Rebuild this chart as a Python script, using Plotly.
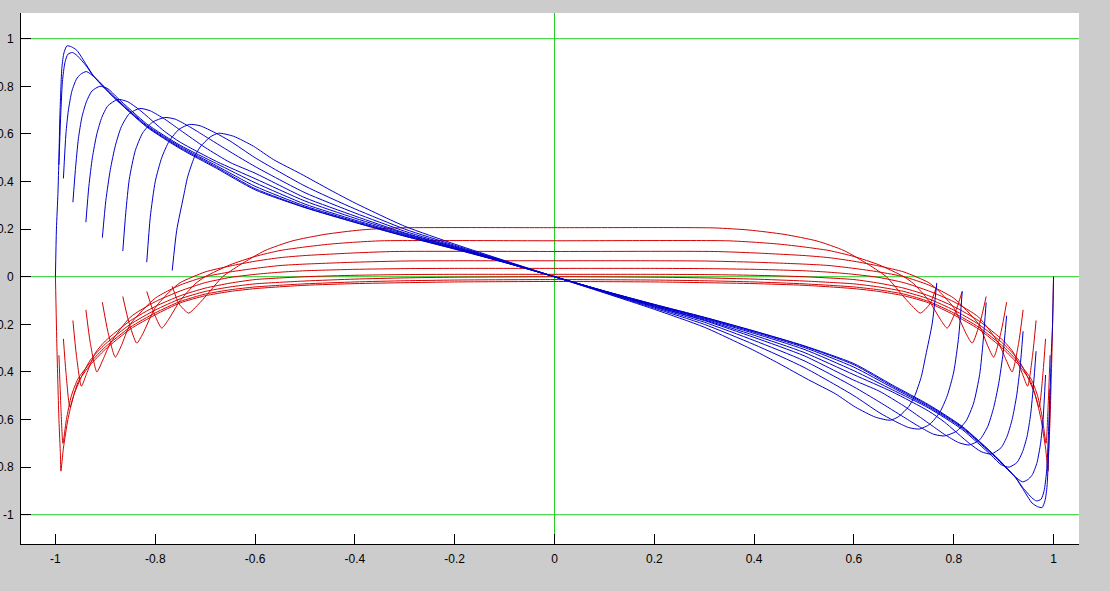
import plotly.graph_objects as go

# ---- tick labels ----
x_tick_vals = [-1, -0.8, -0.6, -0.4, -0.2, 0, 0.2, 0.4, 0.6, 0.8, 1]
x_tick_text = ["-1", "-0.8", "-0.6", "-0.4", "-0.2", "0", "0.2", "0.4", "0.6", "0.8", "1"]
y_tick_vals = [-1, -0.8, -0.6, -0.4, -0.2, 0, 0.2, 0.4, 0.6, 0.8, 1]
y_tick_text = ["-1", "-0.8", "-0.6", "-0.4", "-0.2", "0", "0.2", "0.4", "0.6", "0.8", "1"]

# green reference lines
h_ref_lines = [-1, 0, 1]
v_ref_lines = [0]

# ---- blue (odd) curves: left half, x from -a to 0 ----
blue_c1_x = [-1.0, -0.998, -0.995, -0.993, -0.991, -0.987, -0.983, -0.977, -0.968, -0.957, -0.938, -0.924, -0.884, -0.817, -0.75, -0.677, -0.6, -0.5, -0.4, -0.3, -0.2, -0.1, 0.0]
blue_c1_y = [0.0, 0.2, 0.35, 0.5, 0.68, 0.88, 0.94, 0.97, 0.966, 0.951, 0.89, 0.845, 0.755, 0.629, 0.538, 0.455, 0.365, 0.29, 0.228, 0.17, 0.116, 0.06, 0.0]

blue_c2_x = [-0.993, -0.99, -0.986, -0.981, -0.975, -0.966, -0.957, -0.938, -0.924, -0.884, -0.817, -0.75, -0.677, -0.6, -0.5, -0.4, -0.3, -0.2, -0.1, 0.0]
blue_c2_y = [0.47, 0.65, 0.82, 0.9, 0.935, 0.942, 0.93, 0.885, 0.843, 0.756, 0.632, 0.542, 0.46, 0.37, 0.292, 0.229, 0.171, 0.117, 0.06, 0.0]

blue_c3_x = [-0.984, -0.979, -0.974, -0.967, -0.958, -0.95, -0.938, -0.92, -0.884, -0.817, -0.75, -0.677, -0.6, -0.5, -0.4, -0.3, -0.2, -0.1, 0.0]
blue_c3_y = [0.413, 0.6, 0.70, 0.78, 0.83, 0.85, 0.862, 0.835, 0.76, 0.636, 0.547, 0.466, 0.38, 0.297, 0.233, 0.174, 0.119, 0.061, 0.0]

blue_c4_x = [-0.965, -0.96, -0.954, -0.947, -0.938, -0.927, -0.911, -0.895, -0.875, -0.817, -0.75, -0.677, -0.6, -0.5, -0.4, -0.3, -0.2, -0.1, 0.0]
blue_c4_y = [0.313, 0.45, 0.58, 0.67, 0.735, 0.78, 0.80, 0.79, 0.75, 0.642, 0.552, 0.475, 0.395, 0.305, 0.238, 0.177, 0.12, 0.061, 0.0]

blue_c5_x = [-0.939, -0.933, -0.926, -0.917, -0.907, -0.895, -0.875, -0.855, -0.831, -0.781, -0.75, -0.677, -0.6, -0.5, -0.4, -0.3, -0.2, -0.1, 0.0]
blue_c5_y = [0.229, 0.38, 0.5, 0.6, 0.67, 0.718, 0.745, 0.735, 0.70, 0.61, 0.565, 0.484, 0.412, 0.318, 0.246, 0.181, 0.123, 0.062, 0.0]

blue_c6_x = [-0.906, -0.899, -0.89, -0.88, -0.868, -0.852, -0.831, -0.81, -0.781, -0.75, -0.7, -0.65, -0.6, -0.5, -0.4, -0.3, -0.2, -0.1, 0.0]
blue_c6_y = [0.164, 0.32, 0.45, 0.55, 0.63, 0.685, 0.707, 0.697, 0.662, 0.616, 0.543, 0.48, 0.435, 0.332, 0.255, 0.184, 0.125, 0.063, 0.0]

blue_c7_x = [-0.865, -0.859, -0.852, -0.84, -0.825, -0.805, -0.781, -0.76, -0.731, -0.7, -0.65, -0.6, -0.5, -0.4, -0.3, -0.2, -0.1, 0.0]
blue_c7_y = [0.108, 0.27, 0.41, 0.53, 0.605, 0.65, 0.669, 0.662, 0.63, 0.59, 0.525, 0.463, 0.353, 0.268, 0.191, 0.128, 0.064, 0.0]

blue_c8_x = [-0.817, -0.81, -0.8, -0.787, -0.772, -0.752, -0.731, -0.71, -0.68, -0.65, -0.6, -0.5, -0.4, -0.3, -0.2, -0.1, 0.0]
blue_c8_y = [0.061, 0.25, 0.40, 0.50, 0.57, 0.62, 0.640, 0.634, 0.605, 0.57, 0.50, 0.381, 0.285, 0.2, 0.132, 0.066, 0.0]

blue_c9_x = [-0.766, -0.757, -0.744, -0.735, -0.722, -0.71, -0.69, -0.673, -0.643, -0.603, -0.563, -0.509, -0.45, -0.4, -0.3, -0.2, -0.1, 0.0]
blue_c9_y = [0.026, 0.195, 0.33, 0.42, 0.5, 0.545, 0.587, 0.603, 0.59, 0.548, 0.492, 0.433, 0.365, 0.31, 0.212, 0.137, 0.068, 0.0]

# ---- red (even) curves: left half, x from -a to 0 ----
red_r1_x = [-1.0, -0.997, -0.993, -0.99, -0.989, -0.984, -0.975, -0.965, -0.954, -0.93, -0.9, -0.85, -0.8, -0.75, -0.7, -0.65, -0.6, -0.5, -0.4, -0.3, -0.2, 0.0]
red_r1_y = [0.0, -0.3, -0.6, -0.75, -0.817, -0.72, -0.6, -0.51, -0.44, -0.37, -0.305, -0.22, -0.16, -0.11, -0.08, -0.062, -0.05, -0.036, -0.029, -0.025, -0.022, -0.02]

red_r2_x = [-0.993, -0.989, -0.985, -0.978, -0.968, -0.955, -0.93, -0.9, -0.85, -0.8, -0.75, -0.7, -0.65, -0.6, -0.5, -0.4, -0.3, -0.2, 0.0]
red_r2_y = [-0.33, -0.55, -0.70, -0.6, -0.5, -0.43, -0.36, -0.295, -0.212, -0.152, -0.104, -0.073, -0.055, -0.043, -0.03, -0.022, -0.017, -0.014, -0.012]

red_r3_x = [-0.984, -0.979, -0.971, -0.962, -0.95, -0.93, -0.9, -0.85, -0.8, -0.75, -0.7, -0.65, -0.6, -0.5, -0.4, -0.3, -0.2, 0.0]
red_r3_y = [-0.261, -0.4, -0.548, -0.49, -0.43, -0.35, -0.283, -0.2, -0.14, -0.093, -0.062, -0.043, -0.03, -0.018, -0.01, -0.005, -0.002, 0.0]

red_r4_x = [-0.965, -0.958, -0.948, -0.938, -0.92, -0.9, -0.85, -0.8, -0.75, -0.7, -0.65, -0.6, -0.5, -0.4, -0.3, -0.2, 0.0]
red_r4_y = [-0.184, -0.33, -0.46, -0.41, -0.32, -0.27, -0.185, -0.125, -0.08, -0.048, -0.027, -0.012, 0.0, 0.006, 0.009, 0.01, 0.01]

red_r5_x = [-0.939, -0.93, -0.917, -0.905, -0.89, -0.85, -0.8, -0.75, -0.7, -0.65, -0.6, -0.55, -0.5, -0.4, -0.3, -0.2, 0.0]
red_r5_y = [-0.139, -0.28, -0.40, -0.35, -0.28, -0.17, -0.105, -0.06, -0.025, -0.003, 0.01, 0.019, 0.025, 0.031, 0.034, 0.035, 0.035]

red_r6_x = [-0.906, -0.895, -0.88, -0.868, -0.85, -0.8, -0.75, -0.7, -0.65, -0.6, -0.55, -0.5, -0.4, -0.3, -0.2, 0.0]
red_r6_y = [-0.107, -0.23, -0.338, -0.29, -0.2, -0.09, -0.035, 0.0, 0.02, 0.035, 0.047, 0.053, 0.061, 0.066, 0.067, 0.067]

red_r7_x = [-0.865, -0.853, -0.837, -0.825, -0.8, -0.77, -0.75, -0.7, -0.65, -0.6, -0.55, -0.5, -0.4, -0.32, 0.0]
red_r7_y = [-0.083, -0.19, -0.279, -0.24, -0.13, -0.06, -0.025, 0.02, 0.045, 0.065, 0.08, 0.089, 0.1, 0.106, 0.106]

red_r8_x = [-0.817, -0.803, -0.787, -0.775, -0.75, -0.72, -0.7, -0.65, -0.6, -0.55, -0.5, -0.45, -0.4, -0.345, 0.0]
red_r8_y = [-0.062, -0.15, -0.216, -0.185, -0.1, -0.03, 0.0, 0.05, 0.085, 0.11, 0.125, 0.137, 0.145, 0.151, 0.151]

red_r9_x = [-0.766, -0.752, -0.733, -0.72, -0.7, -0.68, -0.665, -0.63, -0.58, -0.526, -0.46, -0.39, -0.32, 0.0]
red_r9_y = [-0.04, -0.115, -0.153, -0.13, -0.085, -0.035, 0.0, 0.05, 0.11, 0.15, 0.178, 0.196, 0.205, 0.206]

blue_curves = [(blue_c1_x, blue_c1_y), (blue_c2_x, blue_c2_y), (blue_c3_x, blue_c3_y),
               (blue_c4_x, blue_c4_y), (blue_c5_x, blue_c5_y), (blue_c6_x, blue_c6_y),
               (blue_c7_x, blue_c7_y), (blue_c8_x, blue_c8_y), (blue_c9_x, blue_c9_y)]
red_curves = [(red_r1_x, red_r1_y), (red_r2_x, red_r2_y), (red_r3_x, red_r3_y),
              (red_r4_x, red_r4_y), (red_r5_x, red_r5_y), (red_r6_x, red_r6_y),
              (red_r7_x, red_r7_y), (red_r8_x, red_r8_y), (red_r9_x, red_r9_y)]

BLUE = "#0000cc"
RED = "#d40000"
GREEN = "#22cc22"


def full_curve(xs, ys, odd):
    # the plotted family is symmetric: odd (blue) / even (red) about x = 0
    rx = [-v for v in reversed(xs[:-1])]
    ry = [(-v if odd else v) for v in reversed(ys[:-1])]
    return list(xs) + rx, list(ys) + ry


fig = go.Figure()

for xs, ys in red_curves:
    fx, fy = full_curve(xs, ys, odd=False)
    fig.add_trace(go.Scatter(x=fx, y=fy, mode="lines",
                             line=dict(color=RED, width=1, shape="spline", smoothing=0.6),
                             showlegend=False, hoverinfo="skip"))
for xs, ys in blue_curves:
    fx, fy = full_curve(xs, ys, odd=True)
    fig.add_trace(go.Scatter(x=fx, y=fy, mode="lines",
                             line=dict(color=BLUE, width=1, shape="spline", smoothing=0.6),
                             showlegend=False, hoverinfo="skip"))

for v in h_ref_lines:
    fig.add_shape(type="line", xref="paper", x0=0, x1=1, yref="y", y0=v, y1=v,
                  line=dict(color=GREEN, width=1), layer="below")
for v in v_ref_lines:
    fig.add_shape(type="line", yref="paper", y0=0, y1=1, xref="x", x0=v, x1=v,
                  line=dict(color=GREEN, width=1), layer="below")

axis_font = dict(family="Liberation Sans, Arial, sans-serif", size=12, color="black")

fig.update_layout(
    width=1110, height=591,
    margin=dict(l=21, r=31, t=13, b=47, autoexpand=False),
    paper_bgcolor="#cccccc",
    plot_bgcolor="white",
    showlegend=False,
    font=axis_font,
    xaxis=dict(range=[-1.069, 1.051], tickvals=x_tick_vals, ticktext=x_tick_text,
               ticks="inside", ticklen=10, tickwidth=1, tickcolor="black",
               showline=True, linecolor="black", linewidth=1, mirror=False,
               showgrid=False, zeroline=False, tickfont=axis_font, ticklabelstandoff=4,
               automargin=False),
    yaxis=dict(range=[-1.123, 1.108], tickvals=y_tick_vals, ticktext=y_tick_text,
               ticks="inside", ticklen=10, tickwidth=1, tickcolor="black",
               showline=True, linecolor="black", linewidth=1, mirror=False,
               showgrid=False, zeroline=False, tickfont=axis_font, ticklabelstandoff=4,
               automargin=False),
)

fig.write_html("out.html",
               config={"displayModeBar": False},
               post_script="document.body.style.margin='0';document.body.style.padding='0';")
